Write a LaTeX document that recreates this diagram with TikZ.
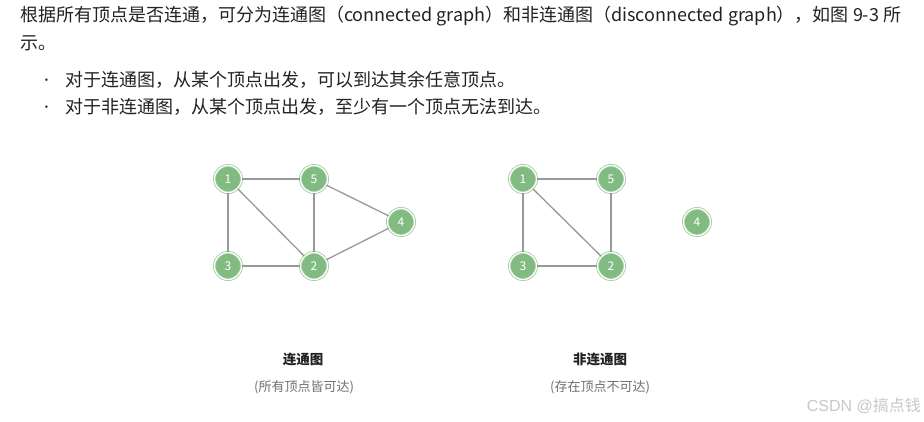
\documentclass[tikz,border=0pt]{standalone}
\usepackage{fontspec}
\setmainfont{Noto Sans CJK SC}
\newfontfamily\latfont{Liberation Sans}
\newfontfamily\dotfont{Noto Sans}
\definecolor{vg}{HTML}{82BB82}
\definecolor{vring}{HTML}{9FCC9F}
\definecolor{eg}{HTML}{999999}
\definecolor{txt}{HTML}{222222}
\definecolor{sub}{HTML}{707070}
\definecolor{wm}{HTML}{C8C8C8}
\begin{document}
\begin{tikzpicture}[x=1pt,y=-1pt,
  vtx/.style={circle, minimum size=27pt, inner sep=0pt, fill=vg, draw=vring,
    double=white, double distance=1.3pt, line width=0.8pt, text=white,
    font=\fontsize{12}{12}\selectfont},
  edge/.style={draw=eg, line width=1.3pt},
  para/.style={anchor=west, inner sep=0pt, text=txt, font=\fontsize{18}{18}\selectfont},
  bul/.style={anchor=west, inner sep=0pt, text=txt, font=\fontsize{18}{18}\dotfont},
  captitle/.style={anchor=center, inner sep=0pt, text=txt, font=\fontsize{13.5}{13.5}\selectfont\bfseries},
  capsub/.style={anchor=center, inner sep=0pt, text=sub, font=\fontsize{13}{13}\selectfont}]
\path[use as bounding box, fill=white] (0,0) rectangle (924,421);

% text
\node[para] (l1) at (20,16) {根据所有顶点是否连通，可分为连通图（connected graph）和非连通图（disconnected graph），如图 9-3 所};
\node[para] (l2) at (20,43) {示。};
\node[bul] (b1) at (44,83) {·};
\node[para] (t1) at (65,80) {对于连通图，从某个顶点出发，可以到达其余任意顶点。};
\node[bul] (b2) at (44,110) {·};
\node[para] (t2) at (65,107) {对于非连通图，从某个顶点出发，至少有一个顶点无法到达。};

% connected graph
\node[vtx] (a1) at (228,179) {1};
\node[vtx] (a5) at (314,179) {5};
\node[vtx] (a4) at (401,222) {4};
\node[vtx] (a3) at (228,266) {3};
\node[vtx] (a2) at (314,266) {2};
\draw[edge] (a1) -- (a5);
\draw[edge] (a1) -- (a3);
\draw[edge] (a1) -- (a2);
\draw[edge] (a5) -- (a2);
\draw[edge] (a5) -- (a4);
\draw[edge] (a3) -- (a2);
\draw[edge] (a2) -- (a4);

% disconnected graph
\node[vtx] (b1n) at (523,179) {1};
\node[vtx] (b5) at (611,179) {5};
\node[vtx] (b4) at (697,222) {4};
\node[vtx] (b3) at (523,266) {3};
\node[vtx] (b2n) at (611,266) {2};
\draw[edge] (b1n) -- (b5);
\draw[edge] (b1n) -- (b3);
\draw[edge] (b1n) -- (b2n);
\draw[edge] (b5) -- (b2n);
\draw[edge] (b3) -- (b2n);

% captions
\node[captitle] (c1) at (303,359) {连通图};
\node[capsub] (s1) at (304,387) {(所有顶点皆可达)};
\node[captitle] (c2) at (600,359) {非连通图};
\node[capsub] (s2) at (600,387) {(存在顶点不可达)};

% watermark
\node[anchor=east, inner sep=0pt, text=wm, font=\fontsize{16}{16}\selectfont] (wmk) at (921,406) {{\latfont CSDN @}搞点钱};
\end{tikzpicture}
\end{document}
